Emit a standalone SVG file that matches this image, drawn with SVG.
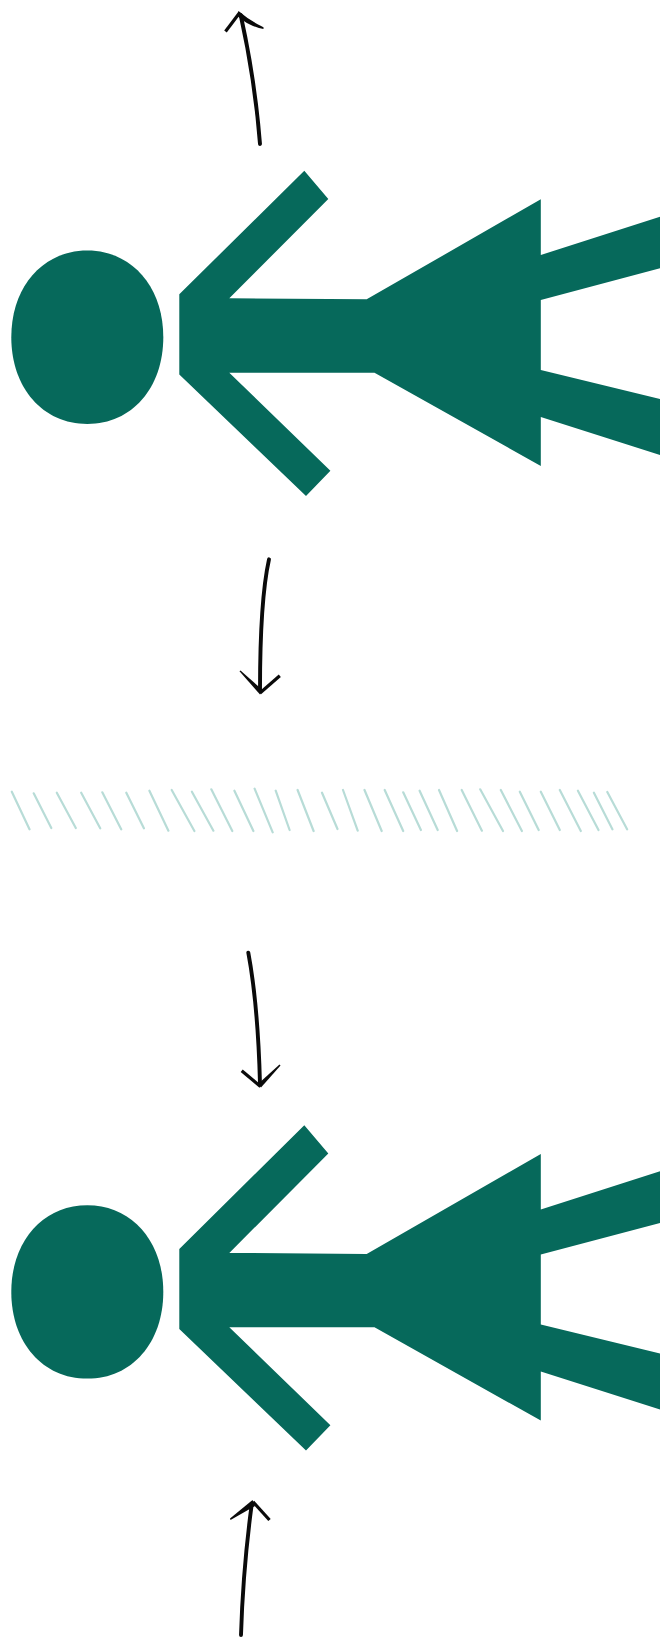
<svg xmlns="http://www.w3.org/2000/svg" width="660" height="1638" viewBox="0 0 660 1638">
<style>
.fig{fill:#06695b}
.hatch{fill:none;stroke:#b8dcd7;stroke-width:2.2;stroke-linecap:round}
.shaft{fill:none;stroke:#0a0a0a;stroke-width:3.9;stroke-linecap:round}
.barb{fill:none;stroke:#0a0a0a;stroke-width:3.2;stroke-linecap:butt}
.taper{fill:#0a0a0a}
</style>
<defs>
<filter id="soft" x="-5%" y="-5%" width="110%" height="110%" color-interpolation-filters="sRGB"><feGaussianBlur stdDeviation="0.5"/></filter>
<g id="person">
<path class="fig" d="M87.3 250.6C131.8 250.6 163.3 286.6 163.3 337.3C163.3 388 131.8 424 87.3 424C42.8 424 11.3 388 11.3 337.3C11.3 286.6 42.8 250.6 87.3 250.6Z"/>
<polygon class="fig" points="304.3,170.7 328.3,199 229.3,298.3 366.7,299.3 540.8,199.3 540.8,255 660,216.7 660,268.3 540.8,300 540.8,370 660,399 660,455 540.8,417 540.8,466 374.5,372.7 229.3,372.7 330.4,470.7 306,496 179.3,374.5 179.3,294.3"/>
</g>
</defs>
<rect width="660" height="1638" fill="#fff"/>
<g id="person-top" filter="url(#soft)"><use href="#person"/></g>
<g id="person-bottom" filter="url(#soft)"><use href="#person" transform="translate(0,954.6)"/></g>
<g id="ground" class="hatch" filter="url(#soft)">
<path d="M11.8 791.7L29.5 829.3M33.7 793.3L51.3 828M56.8 792.7L75.8 828M81.2 792.7L100.2 828.3M102.3 792.3L121.2 829.3M126.3 792.7L143.9 828.3M149.4 790.7L168.4 830.7M171.7 790L194.4 831M191.9 791.7L213.4 830.7M211.3 789.3L232.3 831M234.4 790.7L253.4 831M254.6 788.7L272.7 832.3M275.7 790.7L289.6 830M297.6 790L313.6 831M322 792.7L337.5 829M343 790L357.7 830.7M364.5 790L381.7 831M384.7 790L403.2 831M403.2 792.3L420.9 830M419.6 790.7L437.7 830M439 790L457.1 831M461.7 790L481.9 830.7M480.2 789.3L503 831M500.8 790L521.9 831M519.8 791.7L538.7 830M540.8 791.7L559.8 830M559.8 790L580.8 831M577.9 790.7L598.5 830M593.9 792.7L612.4 829.3M607.3 792L627.1 829.3"/>
</g>
<g id="connectors" filter="url(#soft)">
<path class="shaft" d="M260 144Q255 80 240.7 15"/>
<path class="barb" d="M225.5 31.5L239.8 12.5"/>
<path class="taper" d="M238.5 11Q250 21 263.5 27.2L263.5 29Q248 26 237.5 16Z"/>
<path class="shaft" d="M269 559.3Q260 600 260 690"/>
<path class="barb" d="M279.8 675.8L260 693"/>
<path class="taper" d="M239.5 671.2L240.5 670.5L263 690.5L260 694.5Z"/>
<path class="shaft" d="M248.3 952.7Q258 1005 260 1084"/>
<path class="barb" d="M241.7 1070.7L260.5 1086.5"/>
<path class="taper" d="M279.5 1064.5L280.5 1065.5L261 1087.5L258 1084Z"/>
<path class="shaft" d="M241 1635Q243 1570 251.5 1506"/>
<path class="barb" d="M253 1501.7L269.5 1520"/>
<path class="taper" d="M230 1518.5L230.5 1520L255 1506L252.5 1500Z"/>
</g>
</svg>
